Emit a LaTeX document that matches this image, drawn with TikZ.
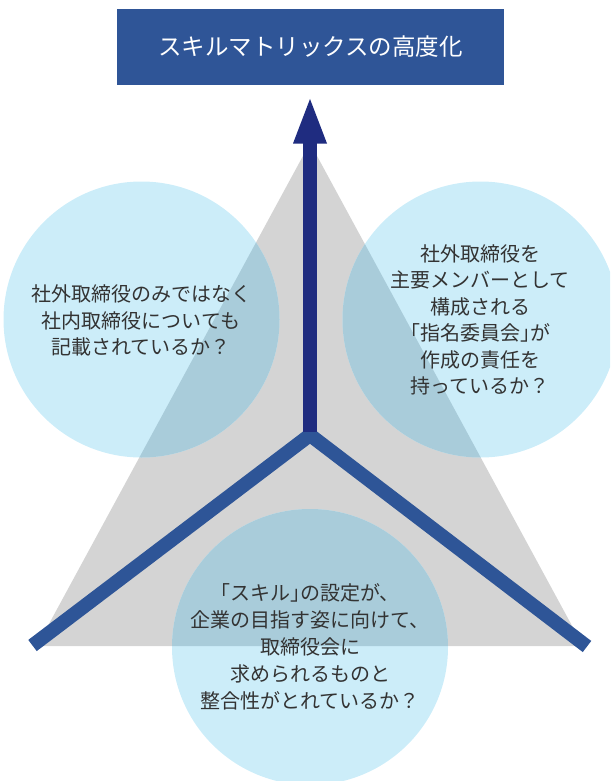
\documentclass[tikz,border=0pt]{standalone}
\usepackage{fontspec}
\newfontfamily\jpfont{Noto Sans CJK JP}
\newfontfamily\jphalf[RawFeature=+halt]{Noto Sans CJK JP}
\newcommand{\lbrk}{{\jphalf 「}}
\newcommand{\rbrk}{{\jphalf 」}}
\definecolor{titleblue}{HTML}{2F5597}
\definecolor{vblue}{HTML}{2E5597}
\definecolor{navy}{HTML}{1F2C80}
\definecolor{trigray}{HTML}{D4D4D4}
\definecolor{bubblefill}{HTML}{CCEDF9}
\definecolor{overlapfill}{HTML}{A9CCDA}
\definecolor{textgray}{HTML}{333333}
\begin{document}
\begin{tikzpicture}[x=1pt,y=-1pt,
  bubble/.style={circle, minimum size=276pt, inner sep=0pt, fill=bubblefill},
  qtext/.style={align=center, text=textgray, inner sep=0pt, font=\jpfont\fontsize{20}{26.5}\selectfont},
  vline/.style={draw=vblue, line width=14pt, line join=miter, line cap=butt},
  shaft/.style={draw=navy, line width=14.5pt, line cap=butt},
  titlebox/.style={fill=titleblue, minimum width=387pt, minimum height=76pt, inner sep=0pt, text=white, font=\jpfont\fontsize{23.5}{28}\selectfont}
]
\clip (0,0) rectangle (610,781);
\useasboundingbox (0,0) rectangle (610,781);

% gray triangle
\coordinate (apex) at (310,143);
\coordinate (tl) at (37,646);
\coordinate (tr) at (583,646);
\fill[trigray] (apex) -- (tl) -- (tr) -- cycle;

% bubbles
\node[bubble] (cl) at (141.5,319.5) {};
\node[bubble] (cr) at (480.5,319.5) {};
\node[bubble] (cb) at (310,647) {};
\begin{scope}
  \clip (apex) -- (tl) -- (tr) -- cycle;
  \fill[overlapfill] (cl.center) circle[radius=138];
  \fill[overlapfill] (cr.center) circle[radius=138];
  \fill[overlapfill] (cb.center) circle[radius=138];
\end{scope}

% V lines
\coordinate (vl) at (32.5,645.5);
\coordinate (vj) at (310,435);
\coordinate (vr) at (587,646.5);
\draw[vline] (vl) -- (vj) -- (vr);

% vertical arrow
\coordinate (sb) at (310,432);
\coordinate (st) at (310,142);
\draw[shaft] (sb) -- (st);
\coordinate (hl) at (293,143.5);
\coordinate (hr) at (327,143.5);
\coordinate (tip) at (310,99);
\fill[navy] (hl) -- (tip) -- (hr) -- cycle;

% title
\node[titlebox] (title) at (310.5,47) {スキルマトリックスの高度化};

% texts
\node[qtext] (tl1) at (141,320.5) {社外取締役のみではなく\\社内取締役についても\\記載されているか？};
\node[qtext] (tr1) at (480,320) {社外取締役を\\主要メンバーとして\\構成される\\\lbrk 指名委員会\rbrk が\\作成の責任を\\持っているか？};
\node[qtext, font=\jpfont\fontsize{20}{27}\selectfont] (tb1) at (310,646.5) {\lbrk スキル\rbrk の設定が、\\企業の目指す姿に向けて、\\取締役会に\\求められるものと\\整合性がとれているか？};
\end{tikzpicture}
\end{document}
